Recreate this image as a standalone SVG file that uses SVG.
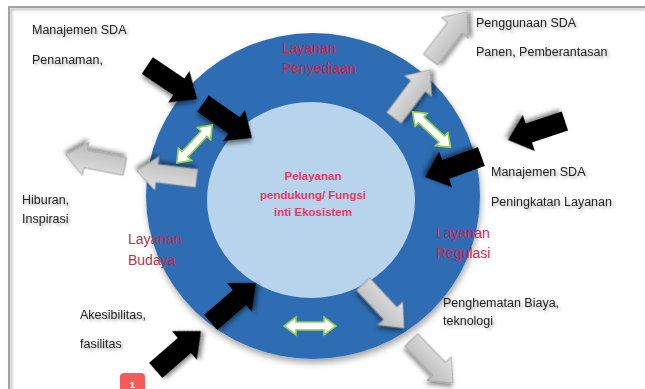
<svg xmlns="http://www.w3.org/2000/svg" width="645" height="389" viewBox="0 0 645 389">
<style>
.t{font-family:"Liberation Sans",Arial,sans-serif;font-size:12.5px;fill:#222;filter:url(#ts)}
.r{font-family:"Liberation Sans",Arial,sans-serif;font-size:14px;fill:#d2264b}
.c{font-family:"Liberation Sans",Arial,sans-serif;font-size:11.5px;font-weight:bold;fill:#e23a66;text-anchor:middle}
.blk{fill:#000;filter:url(#as)}
.gry{fill:url(#gg);stroke:#9a9a9a;stroke-width:0.8;filter:url(#as)}
.dbl{fill:#fff;stroke:#92d050;stroke-width:1.6}
</style>
<defs>
<filter id="ts" x="-10%" y="-30%" width="130%" height="180%"><feDropShadow dx="2" dy="2" stdDeviation="1.5" flood-color="#000" flood-opacity="0.3"/></filter>
<filter id="as" x="-30%" y="-30%" width="160%" height="160%"><feDropShadow dx="2" dy="3" stdDeviation="2" flood-color="#000" flood-opacity="0.45"/></filter>
<filter id="cs" x="-10%" y="-10%" width="120%" height="125%"><feDropShadow dx="1" dy="4" stdDeviation="3" flood-color="#000" flood-opacity="0.35"/></filter>
<linearGradient id="gg" x1="0" y1="0" x2="0" y2="1"><stop offset="0" stop-color="#e2e2e2"/><stop offset="1" stop-color="#b9b9b9"/></linearGradient>
<path id="pb" d="M0,-10H38V-19L60,0L38,19V10H0Z"/>
<path id="pg" d="M0,-9H40V-17L60,0L40,17V9H0Z"/>
<path id="pd" d="M-26,0L-14,-9V-4H14V-9L26,0L14,9V4H-14V9Z"/>
</defs>
<rect width="645" height="389" fill="#fff"/>
<path d="M9,389V7H645" fill="none" stroke="#a3a3a3" stroke-width="2" filter="url(#ts)"/>
<g id="ring">
<ellipse cx="313" cy="196" rx="167" ry="163" fill="#2e6db3" filter="url(#cs)"/>
</g>
<g id="core">
<ellipse cx="311" cy="200" rx="104" ry="98" fill="#b8d4ed"/>
<text class="c" x="313" y="180">Pelayanan</text>
<text class="c" x="313" y="199">pendukung/ Fungsi</text>
<text class="c" x="313" y="216">inti Ekosistem</text>
</g>
<g id="penyediaan"><text class="r" x="282" y="53">Layanan</text><text class="r" x="282" y="73">Penyediaan</text></g>
<g id="budaya"><text class="r" x="128" y="244" style="fill:#b5364a">Layanan</text><text class="r" x="128" y="265" style="fill:#b5364a">Budaya</text></g>
<g id="regulasi"><text class="r" x="436" y="238">Layanan</text><text class="r" x="436" y="258">Regulasi</text></g>
<g id="connectors">
<use href="#pb" class="blk" transform="translate(147.3,65.5) rotate(34)"/>
<use href="#pb" class="blk" transform="translate(202.9,103.6) rotate(35)"/>
<use href="#pb" class="blk" transform="translate(564.9,121) rotate(161.6)"/>
<use href="#pb" class="blk" transform="translate(481.4,156.5) rotate(160)"/>
<use href="#pb" class="blk" transform="translate(155.7,370.4) rotate(-41)"/>
<use href="#pb" class="blk" transform="translate(210.7,322.4) rotate(-41)"/>
<use href="#pg" class="gry" transform="translate(124.9,166.5) rotate(191)"/>
<use href="#pg" class="gry" transform="translate(196.6,178.3) rotate(187)"/>
<use href="#pg" class="gry" transform="translate(430.5,59.6) rotate(-52.5)"/>
<use href="#pg" class="gry" transform="translate(393.9,117.9) rotate(-53)"/>
<use href="#pg" class="gry" transform="translate(363.1,284.1) rotate(47)"/>
<use href="#pg" class="gry" transform="translate(411.3,339.9) rotate(46)"/>
<use href="#pd" class="dbl" transform="translate(194.5,144) rotate(-47)"/>
<use href="#pd" class="dbl" transform="translate(431.5,129.5) rotate(43)"/>
<use href="#pd" class="dbl" transform="translate(310,326)"/>
</g>
<g id="tl"><text class="t" x="32" y="34">Manajemen SDA</text><text class="t" x="32" y="64">Penanaman,</text></g>
<g id="l"><text class="t" x="22" y="204">Hiburan,</text><text class="t" x="22" y="223">Inspirasi</text></g>
<g id="bl"><text class="t" x="80" y="319">Akesibilitas,</text><text class="t" x="80" y="348">fasilitas</text></g>
<g id="tr"><text class="t" x="476" y="27">Penggunaan SDA</text><text class="t" x="476" y="56">Panen, Pemberantasan</text></g>
<g id="r"><text class="t" x="491" y="176">Manajemen SDA</text><text class="t" x="491" y="206">Peningkatan Layanan</text></g>
<g id="br"><text class="t" x="443" y="307">Penghematan Biaya,</text><text class="t" x="443" y="325">teknologi</text></g>
<g id="badge"><rect x="120" y="373" width="25" height="22" rx="4" fill="#f55b5b"/><text x="132.5" y="388" text-anchor="middle" style="font-family:'Liberation Sans',Arial,sans-serif;font-size:9.5px;font-weight:bold;fill:#fff">1</text></g>
</svg>
